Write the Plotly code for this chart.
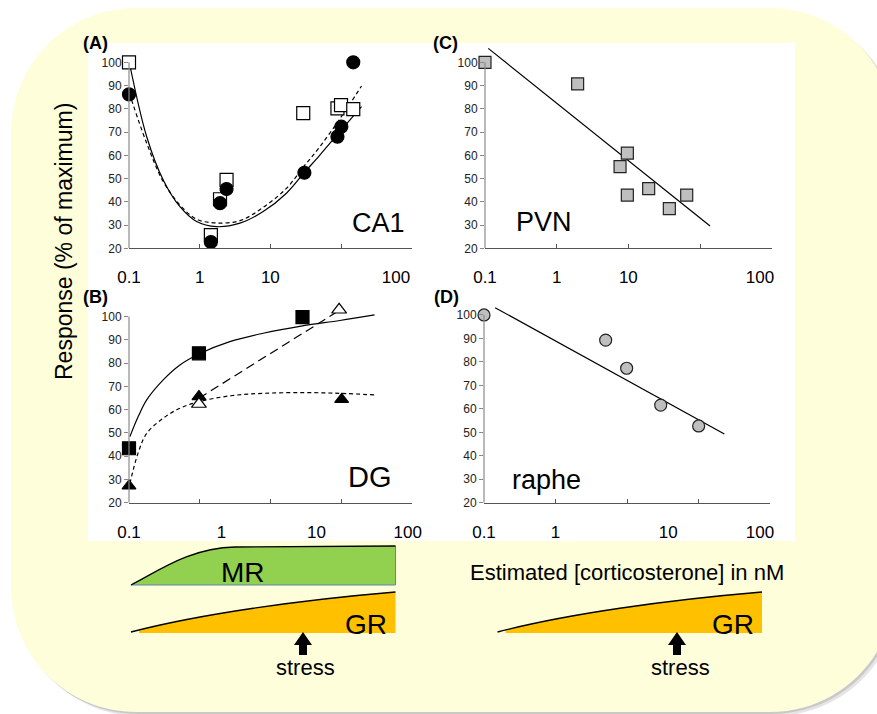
import plotly.graph_objects as go

W, H = 877, 714
FONT = "Arial, 'Liberation Sans', sans-serif"


def X(p):
    return p / W


def Y(p):
    return 1 - p / H


# ---------------- data ----------------
# Panel A (CA1)
ca1_sq_x = [0.1, 1.44, 1.94, 2.40, 29.2, 89, 100, 149]
ca1_sq_y = [100, 25.7, 41.1, 49.4, 78.1, 80.2, 81.6, 79.9]
ca1_ci_x = [0.1, 1.44, 1.94, 2.40, 30.3, 89, 101, 149]
ca1_ci_y = [86.2, 22.7, 39.4, 45.5, 52.5, 68.0, 72.3, 100]
ca1_fit_x = [0.101, 0.178, 0.305, 0.526, 0.906, 1.73, 3.71, 7.92, 16.9, 30.1, 50.2, 101, 195]
ca1_solid_y = [100, 68.0, 49.4, 37.9, 31.5, 29.3, 30.8, 35.8, 43.7, 52.5, 60.1, 70.9, 80.9]
ca1_dash_y = [86.7, 65.2, 48.7, 38.6, 32.5, 30.9, 31.9, 37.6, 45.8, 55.4, 63.7, 76.6, 89.8]

# Panel B (DG)
dg_sq_x = [0.1, 0.976, 28.5]
dg_sq_y = [43.4, 84.2, 99.7]
dg_tri_x = [0.1, 0.976, 102]
dg_tri_y = [27.2, 65.6, 64.4]
dg_otri_x = [0.976, 94]
dg_otri_y = [62.4, 102.9]
dg_fit_x = [0.103, 0.135, 0.178, 0.305, 0.526, 0.976, 2.67, 7.92, 28.5, 96.2, 298]
dg_solid_y = [48.4, 57.0, 64.2, 72.8, 79.2, 83.9, 89.2, 92.8, 96.0, 98.3, 100.7]
dg_dot_y = [28.3, 41.5, 49.8, 56.3, 60.6, 63.4, 65.9, 67.0, 67.3, 67.0, 66.3]
dg_trend_x = [0.976, 90]
dg_trend_y = [64.9, 102.2]

# Panel C (PVN)
pvn_x = [0.1, 1.96, 7.66, 9.68, 9.68, 19.2, 37.3, 65.2]
pvn_y = [100, 90.7, 55.1, 60.9, 42.9, 45.7, 37.1, 42.9]
pvn_fit_x = [0.111, 138]
pvn_fit_y = [106.0, 29.6]

# Panel D (raphe)
raphe_x = [0.1, 5.03, 9.89, 29.6, 100.5]
raphe_y = [100, 89.3, 77.3, 61.6, 52.7]
raphe_fit_x = [0.143, 230]
raphe_fit_y = [103.1, 49.3]

# ticks
decade_ticks = [0.1, 1, 10, 100, 1000]
xlab_text = ["0.1", "1", "10", "100"]
ca1_xlab_pos = [0.1, 1, 10, 600]
dg_xlab_pos = [0.1, 2.04, 45, 880]
pvn_xlab_pos = [0.1, 1, 10, 687]
raphe_xlab_pos = [0.1, 1, 37.8, 725]
y_ticks = [20, 30, 40, 50, 60, 70, 80, 90, 100]

# ---------------- figure ----------------
fig = go.Figure()


def add_line(x, y, xa, ya, dash="solid", spline=True):
    fig.add_trace(go.Scatter(
        x=x, y=y, xaxis=xa, yaxis=ya, mode="lines",
        line=dict(color="black", width=1.2, dash=dash,
                  shape="spline" if spline else "linear", smoothing=1.0),
        hoverinfo="skip", showlegend=False))


def add_markers(x, y, xa, ya, symbol, fill, size=12, lc="black"):
    fig.add_trace(go.Scatter(
        x=x, y=y, xaxis=xa, yaxis=ya, mode="markers",
        marker=dict(symbol=symbol, color=fill, size=size, line=dict(color=lc, width=1.2)),
        cliponaxis=False, showlegend=False))


# A
add_line(ca1_fit_x, ca1_solid_y, "x", "y")
add_line(ca1_fit_x, ca1_dash_y, "x", "y", dash="4px,3px")
add_markers(ca1_sq_x, ca1_sq_y, "x", "y", "square", "white", size=13)
add_markers(ca1_ci_x, ca1_ci_y, "x", "y", "circle", "black", size=13)
# B
add_line(dg_fit_x, dg_solid_y, "x2", "y2")
add_line(dg_fit_x, dg_dot_y, "x2", "y2", dash="4px,3px")
add_line(dg_trend_x, dg_trend_y, "x2", "y2", dash="9px,5px", spline=False)
add_markers(dg_sq_x, dg_sq_y, "x2", "y2", "square", "black", size=13)
add_markers(dg_tri_x, dg_tri_y, "x2", "y2", "triangle-up", "black", size=12)
add_markers(dg_otri_x, dg_otri_y, "x2", "y2", "triangle-up", "white", size=13)
# C
add_line(pvn_fit_x, pvn_fit_y, "x3", "y3", spline=False)
add_markers(pvn_x, pvn_y, "x3", "y3", "square", "#BFBFBF", size=12, lc="#222")
# D
add_line(raphe_fit_x, raphe_fit_y, "x4", "y4", spline=False)
add_markers(raphe_x, raphe_y, "x4", "y4", "circle", "#BFBFBF", size=12, lc="#222")

# empty traces so the overlay label axes are drawn
for n in range(5, 9):
    fig.add_trace(go.Scatter(x=[], y=[], xaxis=f"x{n}", yaxis=f"y{n-4}" if n > 5 else "y",
                             mode="markers", showlegend=False, hoverinfo="skip"))

panels = [
    ([129, 411.7], [248.3, 43.7], ca1_xlab_pos),
    ([129, 411.7], [502.7, 297.9], dg_xlab_pos),
    ([485, 771.7], [248.3, 43.7], pvn_xlab_pos),
    ([484, 770], [502.7, 296.2], raphe_xlab_pos),
]

layout_axes = {}
shapes = []


def rrect(x0, y0, x1, y1, r):
    k = 0.5523 * r
    pts = [
        f"M{X(x0 + r)},{Y(y0)}",
        f"L{X(x1 - r)},{Y(y0)}",
        f"C{X(x1 - r + k)},{Y(y0)} {X(x1)},{Y(y0 + r - k)} {X(x1)},{Y(y0 + r)}",
        f"L{X(x1)},{Y(y1 - r)}",
        f"C{X(x1)},{Y(y1 - r + k)} {X(x1 - r + k)},{Y(y1)} {X(x1 - r)},{Y(y1)}",
        f"L{X(x0 + r)},{Y(y1)}",
        f"C{X(x0 + r - k)},{Y(y1)} {X(x0)},{Y(y1 - r + k)} {X(x0)},{Y(y1 - r)}",
        f"L{X(x0)},{Y(y0 + r)}",
        f"C{X(x0)},{Y(y0 + r - k)} {X(x0 + r - k)},{Y(y0)} {X(x0 + r)},{Y(y0)}",
        "Z",
    ]
    return " ".join(pts)


# background: soft shadow, rounded yellow panel, white chart area
shapes.append(dict(type="path", xref="paper", yref="paper", layer="below",
                   path=rrect(15, 12, 899, 716, 125), fillcolor="rgba(0,0,0,0.10)", line=dict(width=0)))
shapes.append(dict(type="path", xref="paper", yref="paper", layer="below",
                   path=rrect(13, 10, 897, 714, 125), fillcolor="rgba(0,0,0,0.12)", line=dict(width=0)))
shapes.append(dict(type="path", xref="paper", yref="paper", layer="below",
                   path=rrect(11, 8, 895, 712, 125), fillcolor="#FEFEDB", line=dict(width=0)))
shapes.append(dict(type="rect", xref="paper", yref="paper", layer="below",
                   x0=X(88), x1=X(795), y0=Y(541), y1=Y(43), fillcolor="white", line=dict(width=0)))

for i, (dx, dy, labpos) in enumerate(panels):
    n = i + 1
    xs = "" if n == 1 else str(n)
    xdom = [X(dx[0]), X(dx[1])]
    ydom = [Y(dy[0]), Y(dy[1])]
    layout_axes[f"xaxis{xs}"] = dict(
        domain=xdom, type="log", range=[-1, 3], anchor=f"y{xs}", automargin=False,
        tickmode="array", tickvals=decade_ticks, ticks="inside", ticklen=4,
        tickcolor="#555", tickwidth=1, showticklabels=False,
        showline=True, linecolor="#555", linewidth=1,
        showgrid=False, zeroline=False, fixedrange=True)
    layout_axes[f"xaxis{n + 4}"] = dict(
        domain=xdom, type="log", range=[-1, 3], anchor=f"y{xs}", automargin=False,
        overlaying=f"x{xs}", tickmode="array", tickvals=labpos, ticktext=xlab_text,
        ticks="", showline=False, showgrid=False, zeroline=False,
        tickfont=dict(family=FONT, size=17, color="black"), ticklabelstandoff=17,
        fixedrange=True)
    layout_axes[f"yaxis{xs}"] = dict(
        domain=ydom, range=[20, 108], anchor=f"x{xs}", automargin=False,
        tickmode="array", tickvals=y_ticks, ticks="outside", ticklen=4,
        tickcolor="#888", tickwidth=1, showline=False, showgrid=False, zeroline=False,
        tickfont=dict(family=FONT, size=12, color="#222"), fixedrange=True)
    shapes.append(dict(type="line", xref=f"x{xs} domain", yref=f"y{xs}",
                       x0=0, x1=0, y0=20, y1=100, line=dict(color="#8a8a8a", width=1.2)))

# ---- bottom illustration: MR / GR receptor occupancy ----
mr_path = (f"M{X(131)},{Y(585)} C{X(160)},{Y(570)} {X(190)},{Y(548)} {X(235)},{Y(547)} "
           f"L{X(395.5)},{Y(546)} L{X(395.5)},{Y(585)} Z")
shapes.append(dict(type="path", xref="paper", yref="paper", path=mr_path,
                   fillcolor="#92D050", line=dict(width=0)))
shapes.append(dict(type="path", xref="paper", yref="paper",
                   path=f"M{X(395.5)},{Y(546)} L{X(395.5)},{Y(585)} L{X(131)},{Y(585)}",
                   line=dict(color="#5B86B5", width=1)))
shapes.append(dict(type="path", xref="paper", yref="paper",
                   path=(f"M{X(131)},{Y(585)} C{X(160)},{Y(570)} {X(190)},{Y(548)} {X(235)},{Y(547)} "
                         f"L{X(395.5)},{Y(546)}"),
                   line=dict(color="black", width=1.3)))

for off, ax in ((0, 303), (366.5, 677)):
    gr_fill = (f"M{X(139 + off)},{Y(633)} L{X(139 + off)},{Y(630)} "
               f"C{X(205 + off)},{Y(614)} {X(300 + off)},{Y(600)} {X(395.5 + off)},{Y(592)} "
               f"L{X(395.5 + off)},{Y(633)} Z")
    shapes.append(dict(type="path", xref="paper", yref="paper", path=gr_fill,
                       fillcolor="#FFC000", line=dict(width=0)))
    shapes.append(dict(type="path", xref="paper", yref="paper",
                       path=(f"M{X(131 + off)},{Y(632)} C{X(200 + off)},{Y(614)} "
                             f"{X(300 + off)},{Y(600)} {X(395.5 + off)},{Y(592)}"),
                       line=dict(color="black", width=1.3)))
    arrow = (f"M{X(ax)},{Y(632)} L{X(ax + 9)},{Y(645)} L{X(ax + 4)},{Y(645)} "
             f"L{X(ax + 4)},{Y(655)} L{X(ax - 4)},{Y(655)} L{X(ax - 4)},{Y(645)} "
             f"L{X(ax - 9)},{Y(645)} Z")
    shapes.append(dict(type="path", xref="paper", yref="paper", path=arrow,
                       fillcolor="black", line=dict(width=0)))

# ---- annotations ----
ann = []


def text(t, x, y, size, bold=False, angle=0, color="black"):
    ann.append(dict(text=f"<b>{t}</b>" if bold else t, x=X(x), y=Y(y),
                    xref="paper", yref="paper", showarrow=False,
                    xanchor="center", yanchor="middle", textangle=angle,
                    font=dict(family=FONT, size=size, color=color)))


text("(A)", 95, 43, 18, bold=True)
text("(B)", 95, 297, 18, bold=True)
text("(C)", 445, 43, 18, bold=True)
text("(D)", 447, 297, 18, bold=True)
text("CA1", 378, 223, 27)
text("DG", 370, 477, 29)
text("PVN", 544, 222, 27)
text("raphe", 546, 480, 27)
text("Response (% of maximum)", 64, 242, 23, angle=-90)
text("MR", 243, 572, 28)
text("GR", 366, 624, 28)
text("GR", 733, 624, 28)
text("stress", 305, 667, 22)
text("stress", 680, 667, 22)
text("Estimated [corticosterone] in nM", 627, 572, 22)

fig.update_layout(
    width=W, height=H, margin=dict(l=0, r=0, t=0, b=0, pad=0, autoexpand=False),
    paper_bgcolor="white", plot_bgcolor="rgba(0,0,0,0)",
    showlegend=False, shapes=shapes, annotations=ann,
    font=dict(family=FONT), **layout_axes)

fig.write_html("out.html", config={"displayModeBar": False, "staticPlot": True},
               post_script="document.body.style.margin='0';document.body.style.overflow='hidden';")
